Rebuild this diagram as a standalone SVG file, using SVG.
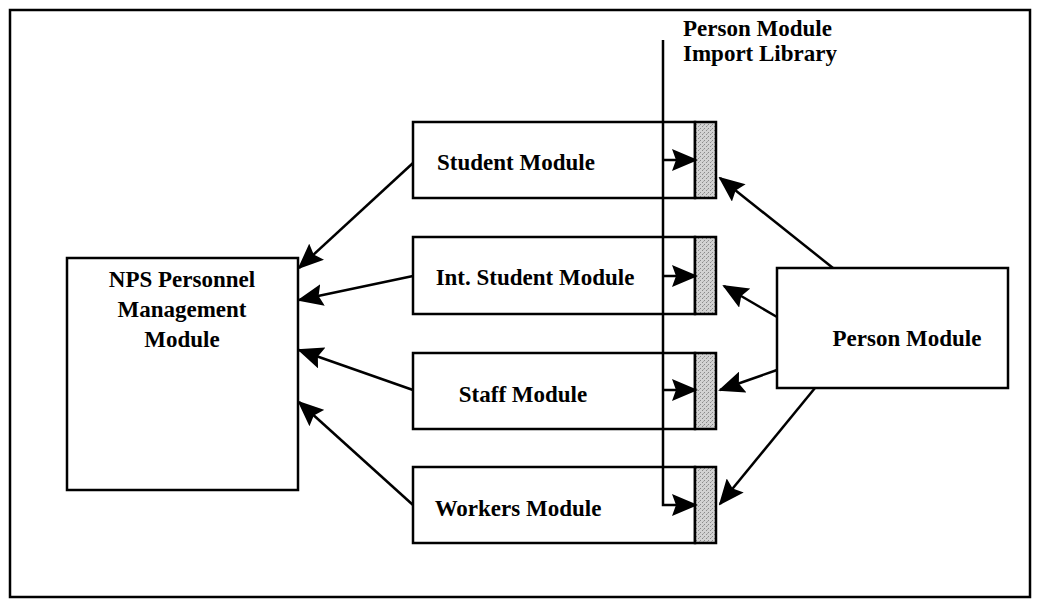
<svg xmlns="http://www.w3.org/2000/svg" width="1037" height="601" viewBox="0 0 1037 601">
<style>
  .box { fill: #ffffff; stroke: #000000; stroke-width: 2.5; }
  .strip { fill: url(#stipple); stroke: #000000; stroke-width: 2.5; }
  .lbl { font-family: "Liberation Serif", "Times New Roman", serif; font-weight: bold; font-size: 23px; fill: #000000; }
  .conn { fill: none; stroke: #000000; stroke-width: 2.5; }
</style>
<defs>
  <pattern id="stipple" width="4" height="4" patternUnits="userSpaceOnUse">
    <rect width="4" height="4" fill="#d2d2d2"/>
    <rect x="0" y="0" width="1" height="1" fill="#8a8a8a"/>
    <rect x="2" y="2" width="1" height="1" fill="#8a8a8a"/>
    <rect x="3" y="1" width="1" height="1" fill="#a8a8a8"/>
  </pattern>
  <marker id="ah" markerWidth="26" markerHeight="22" refX="24" refY="11" orient="auto" markerUnits="userSpaceOnUse">
    <path d="M0,0 L26,11 L0,22 L4,11 Z" fill="#000000"/>
  </marker>
</defs>
<rect x="0" y="0" width="1037" height="601" fill="#ffffff"/>
<rect id="frame" x="10" y="10" width="1020" height="587" fill="none" stroke="#000000" stroke-width="2.5"/>

<g id="import-label">
  <text class="lbl" x="683" y="36">Person Module</text>
  <text class="lbl" x="683" y="61">Import Library</text>
</g>

<g id="nps">
  <rect class="box" x="67" y="258" width="231" height="232"/>
  <text class="lbl" x="182" y="287" text-anchor="middle">NPS Personnel</text>
  <text class="lbl" x="182" y="317" text-anchor="middle">Management</text>
  <text class="lbl" x="182" y="347" text-anchor="middle">Module</text>
</g>

<g id="student">
  <rect class="box" x="413" y="122" width="282" height="76"/>
  <rect class="strip" x="695" y="122" width="21" height="76"/>
  <text class="lbl" x="516" y="170" text-anchor="middle">Student Module</text>
</g>

<g id="int-student">
  <rect class="box" x="413" y="237" width="282" height="77"/>
  <rect class="strip" x="695" y="237" width="21" height="77"/>
  <text class="lbl" x="535" y="285" text-anchor="middle">Int. Student Module</text>
</g>

<g id="staff">
  <rect class="box" x="413" y="353" width="282" height="76"/>
  <rect class="strip" x="695" y="353" width="21" height="76"/>
  <text class="lbl" x="523" y="402" text-anchor="middle">Staff Module</text>
</g>

<g id="workers">
  <rect class="box" x="413" y="467" width="282" height="76"/>
  <rect class="strip" x="695" y="467" width="21" height="76"/>
  <text class="lbl" x="518" y="516" text-anchor="middle">Workers Module</text>
</g>

<g id="person">
  <rect class="box" x="777" y="268" width="231" height="120"/>
  <text class="lbl" x="907" y="346" text-anchor="middle">Person Module</text>
</g>

<g id="connectors">
  <path class="conn" d="M663,40 L663,505 L696,505" marker-end="url(#ah)"/>
  <line class="conn" x1="663" y1="160" x2="696" y2="160" marker-end="url(#ah)"/>
  <line class="conn" x1="663" y1="276" x2="696" y2="276" marker-end="url(#ah)"/>
  <line class="conn" x1="663" y1="390" x2="696" y2="390" marker-end="url(#ah)"/>

  <line class="conn" x1="413" y1="163" x2="299" y2="268" marker-end="url(#ah)"/>
  <line class="conn" x1="413" y1="276" x2="299" y2="300" marker-end="url(#ah)"/>
  <line class="conn" x1="413" y1="390" x2="299" y2="350" marker-end="url(#ah)"/>
  <line class="conn" x1="413" y1="505" x2="299" y2="402" marker-end="url(#ah)"/>

  <line class="conn" x1="833" y1="268" x2="720" y2="178" marker-end="url(#ah)"/>
  <line class="conn" x1="777" y1="317" x2="724" y2="286" marker-end="url(#ah)"/>
  <line class="conn" x1="777" y1="370" x2="720" y2="390" marker-end="url(#ah)"/>
  <line class="conn" x1="815" y1="388" x2="720" y2="504" marker-end="url(#ah)"/>
</g>
</svg>
